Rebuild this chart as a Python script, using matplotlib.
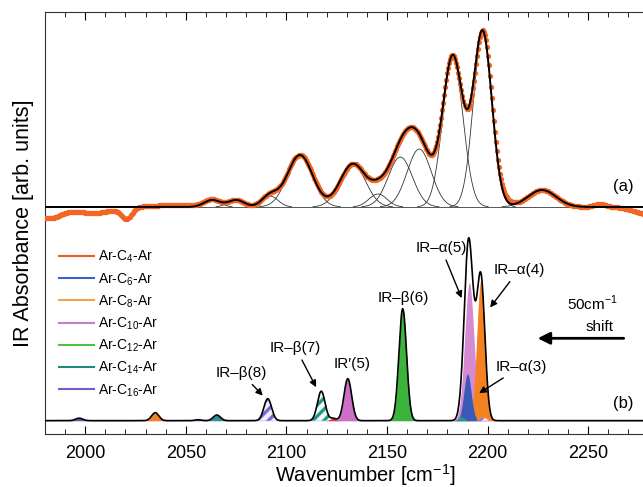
import numpy as np
import matplotlib
matplotlib.use("Agg")
import matplotlib.pyplot as plt

plt.rcParams['font.family'] = ['Liberation Sans', 'DejaVu Sans']
plt.rcParams['hatch.linewidth'] = 2.4

# ---- panel (a): fitted components (centre cm-1, height, sigma)
a_centers = [2063, 2075, 2091.8, 2106.7, 2133, 2145.5, 2156.6, 2166, 2182.7, 2197.5, 2227]
a_heights = [7, 7, 11, 52, 43, 13, 50, 58, 150, 175, 17]
a_sigmas = [4, 4, 4, 6.3, 6.3, 4.5, 6, 6, 5, 4.6, 7]
# baseline deviations of the measured spectrum (centre, height, sigma)
dev_centers = [1982, 2004, 2020.5, 2045, 2210, 2256, 2279]
dev_heights = [-11, -6, -11, 2, 3, 3, -7]
dev_sigmas = [6, 9, 2.5, 12, 3, 3, 6]

# ---- panel (b): simulated Ar-Cn-Ar peaks
b_centers = [1997, 2034.8, 2056, 2065.4, 2090.7, 2117.3, 2123.2, 2130.5, 2157.8, 2190.9, 2196.6, 2190, 2187, 2198]
b_heights = [2.5, 8, 1, 5.7, 22, 29.5, 2.3, 42, 112, 138, 140, 47, 4, 3]
b_sigmas = [1.8, 1.8, 1.5, 1.8, 1.9, 1.9, 1.5, 1.9, 1.9, 2.3, 2.0, 1.8, 1.5, 1.5]
b_colors = ['#6a52b8', '#f58220', '#6a52b8', '#2e8fa0', '#7b68d8', '#1f9a8a', '#e8312a',
            '#cc6fc6', '#3cb43c', '#d68ad2', '#f58220', '#3a5ab8', '#1f9a8a', '#7b68d8']
b_faces = [None, None, None, None, '#f4eefc', '#f2fbf9', None, None, None, None, None, None, None, '#f4eefc']
b_hatch = [None, None, None, None, '///', '///', None, None, None, None, None, None, None, '///']

legend_labels = ['Ar-C$\\mathregular{_4}$-Ar', 'Ar-C$\\mathregular{_6}$-Ar', 'Ar-C$\\mathregular{_8}$-Ar',
                 'Ar-C$\\mathregular{_{10}}$-Ar', 'Ar-C$\\mathregular{_{12}}$-Ar',
                 'Ar-C$\\mathregular{_{14}}$-Ar', 'Ar-C$\\mathregular{_{16}}$-Ar']
legend_colors = ['#f05a28', '#3a62c8', '#f7a04a', '#c77ccf', '#4cc24c', '#1f8a7a', '#7a5ac8']

offset_a = 213.7

def gauss(x, c, h, s):
    return h * np.exp(-(x - c) ** 2 / (2 * s ** 2))

x = np.arange(1980, 2280.01, 0.25)
xd = np.arange(1980, 2280.01, 0.5)

fig = plt.figure(figsize=(6.43, 4.87), dpi=100)
ax = fig.add_axes([45 / 643, 1 - 434 / 487, (648.6 - 45) / 643, 422 / 487])
for sp in ax.spines.values():
    sp.set_color('#333333')

# panel (a)
fit = np.zeros_like(x)
for c, h, s in zip(a_centers, a_heights, a_sigmas):
    comp = gauss(x, c, h, s)
    fit += comp
    m = comp > 0.3
    ax.plot(x[m], comp[m] + offset_a, color='#333333', lw=0.6, zorder=3)
meas = np.zeros_like(xd)
for c, h, s in zip(a_centers, a_heights, a_sigmas):
    meas += gauss(xd, c, h, s)
for c, h, s in zip(dev_centers, dev_heights, dev_sigmas):
    meas += gauss(xd, c, h, s)
ax.axhline(offset_a, color='#555555', lw=0.7, zorder=2)
ax.plot(xd, meas + offset_a, 'o', color='#f26522', ms=3.8, mec='none', zorder=4)
ax.plot(x, fit + offset_a, color='black', lw=1.4, zorder=5)

# panel (b)
total = np.zeros_like(x)
for c, h, s, col, face, hat in zip(b_centers, b_heights, b_sigmas, b_colors, b_faces, b_hatch):
    y = gauss(x, c, h, s)
    total += y
    m = y > 0.05
    if hat:
        ax.fill_between(x[m], 0, y[m], facecolor=face, edgecolor=col, hatch=hat, lw=0, zorder=3)
    else:
        ax.fill_between(x[m], 0, y[m], color=col, lw=0, zorder=3)
ax.axhline(0.8, color='#c8a0e0', lw=1.0, zorder=2)
ax.plot(x, total, color='black', lw=1.2, zorder=5)

for lab, col in zip(legend_labels, legend_colors):
    ax.plot([], [], color=col, lw=1.5, label=lab)
ax.legend(loc='upper left', bbox_to_anchor=(0.005, 0.465), frameon=False, fontsize=10,
          handlelength=2.5, labelspacing=0.42, handletextpad=0.3, borderaxespad=0.4)

# annotations
ap = dict(arrowstyle='-|>', color='black', lw=1.0, mutation_scale=10)
fs = 11
ax.annotate('IR–β(8)', xy=(2089.2, 23), xytext=(2077.5, 48), fontsize=fs, ha='center', va='center', arrowprops=ap)
ax.annotate('IR–β(7)', xy=(2115.4, 31), xytext=(2104.5, 73), fontsize=fs, ha='center', va='center', arrowprops=ap)
ax.text(2132.8, 57, 'IR′(5)', fontsize=fs, ha='center', va='center')
ax.text(2158.2, 123, 'IR–β(6)', fontsize=fs, ha='center', va='center')
ax.annotate('IR–α(5)', xy=(2187.6, 120), xytext=(2176.8, 173), fontsize=fs, ha='center', va='center', arrowprops=ap)
ax.annotate('IR–α(4)', xy=(2200.4, 111), xytext=(2215.6, 151), fontsize=fs, ha='center', va='center', arrowprops=ap)
ax.annotate('IR–α(3)', xy=(2194.6, 26), xytext=(2216.6, 54), fontsize=fs, ha='center', va='center', arrowprops=ap)
ax.text(2252, 117, '50cm$^{\\mathregular{-1}}$', fontsize=fs, ha='center', va='center')
ax.text(2248.5, 94, 'shift', fontsize=fs, ha='left', va='center')
ax.annotate('', xy=(2223.5, 82.4), xytext=(2269, 82.4),
            arrowprops=dict(arrowstyle='-|>', color='black', lw=2.0, mutation_scale=18))
ax.text(2267.5, offset_a + 21, '(a)', fontsize=12, ha='center', va='center')
ax.text(2267.5, 17.4, '(b)', fontsize=12, ha='center', va='center')

ax.set_xlim(1980, 2280)
ax.set_ylim(-13.3, 408.7)
ax.set_xticks(np.arange(2000, 2251, 50))
ax.set_xticks(np.arange(1980, 2281, 10), minor=True)
ax.set_yticks([])
ax.tick_params(axis='x', which='both', direction='in', top=True, labelsize=13, pad=8)
ax.tick_params(axis='x', which='major', length=6)
ax.tick_params(axis='x', which='minor', length=3.5)
ax.set_xlabel('Wavenumber [cm$^{\\mathregular{-1}}$]', fontsize=14.5)
ax.xaxis.set_label_coords(0.530, -0.066)
ax.set_ylabel('IR Absorbance [arb. units]', fontsize=15.5, labelpad=8)

fig.savefig('out.png', dpi=100)
